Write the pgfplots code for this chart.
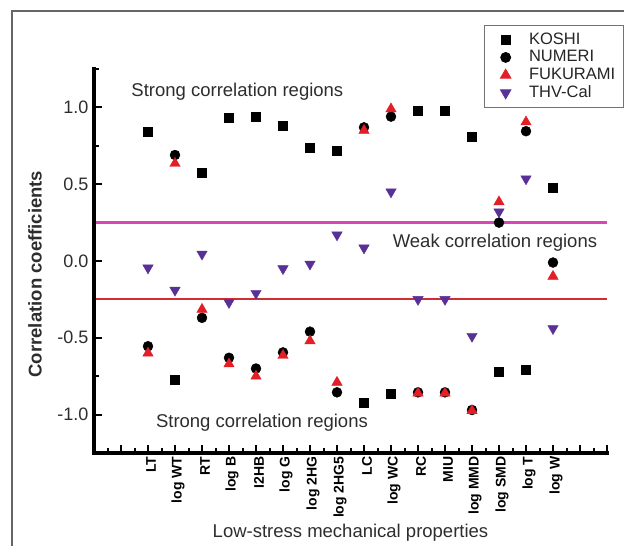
\documentclass[border=0pt]{standalone}
\usepackage{pgfplots}
\pgfplotsset{compat=1.18}
\usepackage{fontspec}
\setmainfont{Liberation Sans}

\definecolor{fukured}{RGB}{226,30,38}
\definecolor{thvpurple}{RGB}{88,48,150}
\definecolor{weakline}{RGB}{218,70,178}
\definecolor{strongline}{RGB}{210,45,55}
\definecolor{txtgray}{RGB}{45,45,45}

% correlation of each low-stress property (x = 2 ... 17) with the hand values
\pgfplotstableread{
x  koshi  numeri  fukurami  thv
2   0.84  -0.555  -0.60   -0.045
3  -0.77   0.69    0.635  -0.19
4   0.575 -0.37   -0.315   0.045
5   0.935 -0.63   -0.67   -0.27
6   0.94  -0.70   -0.75   -0.21
7   0.88  -0.595  -0.615  -0.05
8   0.74  -0.46   -0.52   -0.02
9   0.72  -0.855  -0.79    0.17
10 -0.925  0.87    0.85    0.085
11 -0.865  0.94    0.99    0.45
12  0.98  -0.855  -0.86   -0.25
13  0.98  -0.855  -0.86   -0.25
14  0.81  -0.97   -0.975  -0.49
15 -0.72   0.25    0.385   0.32
16 -0.71   0.845   0.905   0.535
17  0.48  -0.01   -0.10   -0.44
}\corrdata

\begin{document}
\begin{tikzpicture}[x=1pt,y=1pt]
\useasboundingbox (0,0) rectangle (624,546);
\draw[black!60, line width=1.3pt] (12,-5) -- (12,535) -- (630,535);
\begin{axis}[
  at={(94pt,93pt)}, anchor=south west,
  scale only axis, width=513pt, height=384pt,
  xmin=0, xmax=19, ymin=-1.25, ymax=1.25,
  axis x line*=bottom, axis y line*=left,
  tick align=inside,
  major tick length=0pt, minor tick length=0pt,
  xtick={0,...,19},
  xticklabels={,,LT,log WT,RT,log B,I2HB,log G,log 2HG,log 2HG5,LC,log WC,RC,MIU,log MMD,log SMD,log T,log W,,},
  ytick={-1,-0.5,0,0.5,1},
  /pgf/number format/assume math mode=true,
  yticklabel style={/pgf/number format/fixed, /pgf/number format/fixed zerofill,
    /pgf/number format/precision=1, font=\fontsize{18}{20}\selectfont, text=txtgray,
    xshift=-2pt},
  xticklabel style={rotate=90, anchor=east, font=\bfseries\fontsize{14}{16}\selectfont, text=black,
    yshift=-3pt},
  xlabel={Low-stress mechanical properties},
  xlabel style={at={(axis description cs:0.5,-0.208)}, anchor=center, font=\fontsize{18.5}{20}\selectfont, text=txtgray},
  ylabel={Correlation coefficients},
  ylabel style={at={(axis description cs:-0.115,0.466)}, anchor=center, font=\bfseries\fontsize{18.5}{20}\selectfont, text=txtgray},
  legend style={at={(axis description cs:0.760,1.115)}, anchor=north west,
    draw=black!55, line width=0.8pt, fill=white,
    font=\fontsize{16.5}{17}\selectfont, text=black!85,
    row sep=0.7pt, column sep=0pt, inner xsep=0pt, inner ysep=6pt,
    nodes={inner xsep=2pt, inner ysep=0.5pt, text height=12.5pt, text depth=3.5pt}},
  legend cell align=left,
  legend image code/.code={%
    \path (-21pt,0pt) (21pt,0pt);
    \draw[mark repeat=2, mark phase=2, #1] plot coordinates {(-1pt,0pt) (0pt,0pt) (1pt,0pt)};},
  clip=false,
]
\addplot[only marks, mark=square*, mark size=4.5pt, black] table[x=x, y=koshi] {\corrdata};
\addlegendentry{KOSHI}
\addplot[only marks, mark=*, mark size=5pt, black] table[x=x, y=numeri] {\corrdata};
\addlegendentry{NUMERI}
\addplot[only marks, mark=triangle*, mark size=6pt, fukured] table[x=x, y=fukurami] {\corrdata};
\addlegendentry{FUKURAMI\hspace*{6pt}}
\addplot[only marks, mark=triangle*, mark size=6pt, thvpurple, mark options={rotate=180}] table[x=x, y=thv] {\corrdata};
\addlegendentry{THV-Cal}

% borders of the weak correlation band
\addplot[weakline, line width=2.2pt, forget plot] coordinates {(0,0.25) (19,0.25)};
\addplot[strongline, line width=2pt, forget plot] coordinates {(0,-0.25) (19,-0.25)};

% heavy left and bottom spines with inward ticks
\draw[black, line width=3.4pt, line cap=rect] (axis cs:0,1.25) -- (axis cs:0,-1.25) -- (axis cs:19,-1.25);
\pgfplotsinvokeforeach{1,...,19}{\draw[black, line width=2pt] (axis cs:#1,-1.25) -- ++(0pt,8pt);}
\pgfplotsinvokeforeach{0.5,1.5,...,18.5}{\draw[black, line width=2pt] (axis cs:#1,-1.25) -- ++(0pt,5pt);}
\pgfplotsinvokeforeach{-1,-0.5,0,0.5,1}{\draw[black, line width=2pt] (axis cs:0,#1) -- ++(8pt,0pt);}
\pgfplotsinvokeforeach{-0.75,0.75,1.25}{\draw[black, line width=2pt] (axis cs:0,#1) -- ++(5pt,0pt);}

\node[font=\fontsize{18.5}{20}\selectfont, text=txtgray] at (axis cs:5.31,1.10) {Strong correlation regions};
\node[font=\fontsize{18.5}{20}\selectfont, text=txtgray] at (axis cs:6.22,-1.05) {Strong correlation regions};
\node[font=\fontsize{18.5}{20}\selectfont, text=txtgray] at (axis cs:14.85,0.117) {Weak correlation regions};
\end{axis}
\end{tikzpicture}
\end{document}
